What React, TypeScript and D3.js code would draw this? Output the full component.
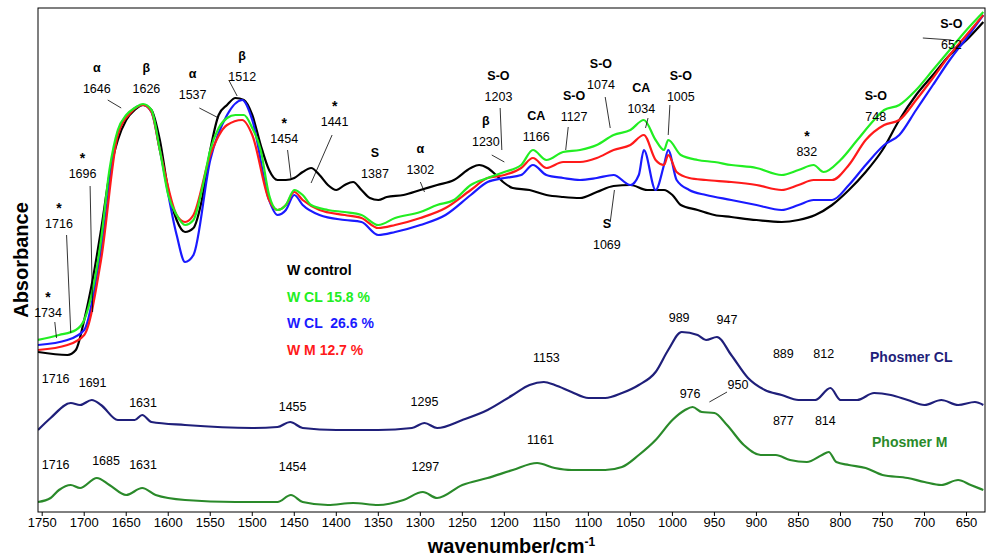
import React from "react";
import * as d3 from "d3";

type P = [number, number];
// [wavenumber, plotted depth (arbitrary absorbance axis, 0 = top of frame)]
const wControl: P[] = [[1755,352],[1720,355],[1710,350],[1700,320],[1690,280],[1680,230],[1670,175],[1660,140],[1650,120],[1640,110],[1630,105],[1620,110],[1610,140],[1600,190],[1590,220],[1580,232],[1570,228],[1560,200],[1550,150],[1540,115],[1530,105],[1520,98],[1510,100],[1500,115],[1490,145],[1480,170],[1470,180],[1460,180],[1450,178],[1440,172],[1430,168],[1420,175],[1410,185],[1400,190],[1390,185],[1380,182],[1370,190],[1360,198],[1350,200],[1340,197],[1320,195],[1300,190],[1280,185],[1260,180],[1240,168],[1230,165],[1220,168],[1210,175],[1200,183],[1190,188],[1170,190],[1150,195],[1130,197],[1110,198],[1090,192],[1070,186],[1050,185],[1030,190],[1010,190],[1000,195],[990,205],[970,210],[950,215],[930,217],[900,220],[870,222],[850,220],[830,215],[810,205],[790,190],[770,172],[750,150],[730,120],[710,95],[690,75],[670,55],[650,40],[630,22]];
const wCL158: P[] = [[1755,340],[1730,335],[1710,330],[1700,320],[1690,290],[1680,240],[1670,170],[1660,130],[1650,115],[1640,108],[1630,104],[1620,110],[1610,150],[1600,195],[1590,215],[1580,225],[1570,220],[1560,190],[1550,150],[1540,128],[1530,118],[1520,115],[1510,115],[1500,128],[1490,150],[1480,195],[1470,210],[1460,205],[1450,190],[1440,195],[1430,205],[1410,210],[1390,212],[1370,215],[1350,225],[1330,218],[1300,212],[1280,205],[1260,200],[1240,185],[1220,178],[1200,172],[1180,165],[1166,150],[1150,160],[1130,152],[1110,150],[1090,145],[1070,135],[1050,130],[1034,120],[1020,140],[1010,150],[1005,140],[990,155],[970,160],[950,162],[930,165],[900,168],[870,175],[850,170],[832,165],[820,172],[800,160],[780,140],[760,120],[748,110],[730,105],[710,90],[690,70],[670,50],[650,30],[630,12]];
const wCL266: P[] = [[1755,345],[1720,340],[1700,330],[1680,250],[1660,132],[1645,112],[1630,105],[1620,112],[1610,150],[1590,235],[1580,262],[1570,255],[1550,160],[1530,115],[1512,100],[1500,120],[1480,200],[1470,215],[1460,210],[1450,195],[1440,205],[1420,215],[1390,220],[1370,222],[1350,235],[1330,232],[1300,225],[1270,215],[1240,195],[1220,182],[1200,178],[1180,175],[1166,165],[1150,175],[1130,178],[1110,180],[1090,178],[1070,175],[1050,185],[1040,175],[1034,150],[1020,190],[1010,165],[1005,150],[995,180],[980,190],[960,195],[930,200],[900,205],[870,210],[850,205],[832,200],[810,200],[790,185],[770,165],[748,145],[730,135],[710,110],[690,85],[670,60],[650,38],[630,15]];
const wM127: P[] = [[1755,350],[1720,345],[1700,335],[1680,260],[1660,135],[1645,113],[1630,105],[1620,112],[1610,150],[1590,215],[1580,222],[1570,215],[1550,155],[1530,125],[1512,120],[1500,135],[1480,200],[1470,210],[1460,205],[1450,192],[1440,200],[1420,210],[1390,215],[1370,218],[1350,228],[1330,225],[1300,218],[1270,208],[1240,190],[1220,178],[1200,175],[1180,168],[1166,158],[1150,168],[1130,162],[1110,162],[1090,158],[1070,150],[1050,145],[1034,135],[1020,160],[1010,165],[1005,155],[995,172],[980,178],[960,180],[930,182],[900,185],[870,190],[850,185],[832,180],[810,180],[790,165],[770,140],[748,125],[730,120],[710,100],[690,78],[670,55],[650,35],[630,15]];
const phosCL: P[] = [[1755,430],[1740,418],[1716,403],[1705,405],[1691,400],[1680,405],[1660,420],[1640,420],[1631,415],[1620,422],[1580,425],[1500,428],[1470,427],[1455,422],[1440,428],[1400,430],[1350,430],[1310,428],[1295,423],[1280,428],[1250,420],[1220,410],[1190,395],[1170,385],[1153,382],[1140,385],[1120,392],[1100,398],[1080,398],[1060,393],[1040,385],[1020,372],[1005,350],[989,332],[970,335],[960,340],[947,337],[930,355],[910,378],[890,390],[870,395],[850,400],[830,400],[812,388],[800,400],[780,400],[760,393],[740,395],[720,400],[700,405],[680,400],[660,405],[640,402],[630,405]];
const phosM: P[] = [[1755,502],[1740,498],[1730,490],[1716,485],[1705,488],[1685,478],[1670,485],[1650,495],[1631,488],[1615,495],[1580,500],[1520,502],[1470,502],[1454,495],[1440,502],[1410,505],[1380,503],[1350,505],[1320,500],[1297,492],[1280,498],[1250,485],[1220,478],[1190,470],[1161,463],[1140,468],[1120,470],[1100,470],[1080,470],[1060,467],[1040,455],[1020,440],[1000,420],[985,410],[976,407],[965,412],[950,413],[935,425],[915,445],[895,455],[877,455],[860,460],[840,462],[822,455],[814,452],[805,462],[790,465],[770,468],[750,475],[720,478],[700,482],[680,485],[660,480],[645,485],[630,490]];

const xTicks = [1750,1700,1650,1600,1550,1500,1450,1400,1350,1300,1250,1200,1150,1100,1050,1000,950,900,850,800,750,700,650];

const annTop: [string, string, number, number][] = [
  ["*","1734",1743,296],["*","1716",1730,207],["*","1696",1702,157],["α","1646",1685,72],
  ["β","1626",1626,72],["α","1537",1571,78],["β","1512",1512,60],["*","1454",1462,122],
  ["*","1441",1402,105],["S","1387",1354,157],["α","1302",1300,153],["β","1230",1222,125],
  ["S-O","1203",1207,80],["CA","1166",1162,120],["S-O","1127",1117,100],["S-O","1074",1085,68],
  ["CA","1034",1037,92],["S-O","1005",990,80],["S","1069",1078,228],["*","832",840,135],
  ["S-O","748",758,100],["S-O","652",668,28]];
const leaders: [number, number, number, number][] = [
  [1735,322,1733,338],[1721,235,1716,333],[1693,186,1690,312],[1672,100,1656,108],
  [1563,108,1540,118],[1458,150,1454,178],[1405,135,1430,183],[1300,182,1295,192],
  [1215,155,1200,162],[1205,108,1203,150],[1124,127,1127,150],[1080,97,1074,128],
  [1074,222,1069,190],[702,38,668,40],[1528,80,1518,96],[1003,105,1005,135],[1029,118,1032,128]];
const annCL: [string, number, number][] = [["1716",1734,383],["1691",1690,387],["1631",1630,407],["1455",1452,411],["1295",1295,406],["1153",1150,362],["989",992,322],["947",935,324],["889",868,358],["812",820,358]];
const annM: [string, number, number][] = [["1716",1734,469],["1685",1674,465],["1631",1630,469],["1454",1452,471],["1297",1294,471],["1161",1157,444],["976",979,398],["950",922,389],["877",868,425],["814",818,425]];

export default function App() {
  const L = 38, R = 985, T = 8, B = 512;
  const x = d3.scaleLinear().domain([1755, 628]).range([L, R]);
  const y = d3.scaleLinear().domain([0, 504]).range([T, B]);
  const line = d3.line<P>().x(d => x(d[0])).y(d => y(d[1] - 8)).curve(d3.curveMonotoneX);
  const series: [P[], string][] = [[wControl,"#000"],[wCL266,"#1a1aff"],[wM127,"#ff1a1a"],[wCL158,"#22ee22"],[phosCL,"#1f1f7a"],[phosM,"#2a8a2a"]];
  const f = "'Liberation Sans', Arial, sans-serif";
  return (
    <svg width={988} height={556} style={{ position: "absolute", left: 0, top: 0, background: "#fff" }} fontFamily={f}>
      <clipPath id="c"><rect x={L} y={T} width={R - L} height={B - T} /></clipPath>
      <g clipPath="url(#c)">
        {series.map(([d, c], i) => <path key={i} d={line(d) || ""} fill="none" stroke={c} strokeWidth={2.2} />)}
      </g>
      <rect x={L} y={T} width={R - L} height={B - T} fill="none" stroke="#000" strokeWidth={1} />
      {xTicks.map(t => (
        <g key={t}>
          <line x1={x(t)} x2={x(t)} y1={B} y2={B + 4} stroke="#000" />
          <text x={x(t)} y={B + 15} fontSize={13} textAnchor="middle">{t}</text>
        </g>
      ))}
      <text x={(L + R) / 2} y={553} fontSize={20} fontWeight="bold" textAnchor="middle">wavenumber/cm<tspan dy={-7} fontSize={12}>-1</tspan></text>
      <text transform="translate(28,260) rotate(-90)" fontSize={20} fontWeight="bold" textAnchor="middle">Absorbance</text>
      {leaders.map((l, i) => <line key={i} x1={x(l[0])} y1={l[1]} x2={x(l[2])} y2={l[3]} stroke="#000" strokeWidth={0.8} />)}
      {annTop.map(([s, n, w, yy], i) => (
        <g key={i} textAnchor="middle" fontSize={12.5}>
          <text x={x(w)} y={yy + (s === "*" ? 6 : 0)} fontWeight="bold" fontSize={s === "*" ? 14 : 12.5}>{s}</text>
          <text x={x(w)} y={yy + 21}>{n}</text>
        </g>
      ))}
      {annCL.map(([n, w, yy], i) => <text key={"c" + i} x={x(w)} y={yy} fontSize={12.5} textAnchor="middle">{n}</text>)}
      {annM.map(([n, w, yy], i) => <text key={"m" + i} x={x(w)} y={yy} fontSize={12.5} textAnchor="middle">{n}</text>)}
      <line x1={x(935)} y1={392} x2={x(956)} y2={402} stroke="#000" strokeWidth={0.8} />
      <text x={870} y={362} fontSize={14} fontWeight="bold" fill="#1f1f7a">Phosmer CL</text>
      <text x={872} y={447} fontSize={14} fontWeight="bold" fill="#2a8a2a">Phosmer M</text>
      <g fontSize={14} fontWeight="bold">
        <text x={287} y={275} fill="#000">W control</text>
        <text x={287} y={302} fill="#22ee22">W CL 15.8 %</text>
        <text x={287} y={328} fill="#1a1aff" style={{ whiteSpace: "pre" }}>W CL  26.6 %</text>
        <text x={287} y={355} fill="#ff1a1a">W M 12.7 %</text>
      </g>
    </svg>
  );
}
